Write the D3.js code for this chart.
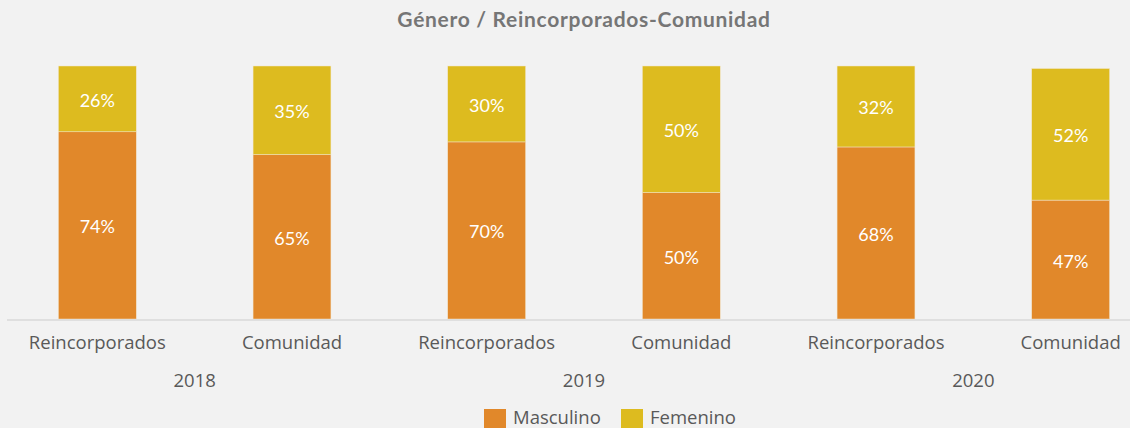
<!DOCTYPE html>
<html>
<head>
<meta charset="utf-8">
<script src="https://cdn.jsdelivr.net/npm/d3@7"></script>
<style>
  html, body { margin: 0; padding: 0; background: #f2f2f2; }
  svg { display: block; }
</style>
</head>
<body>
<div id="chart"></div>
<script>
// Data
const years = ["2018", "2019", "2020"];
const groups = ["Reincorporados", "Comunidad"];
const masculino = [74, 65, 70, 50, 68, 47];
const femenino = [26, 35, 30, 50, 32, 52];
const seriesNames = ["Masculino", "Femenino"];

const W = 1130, H = 428;
const colors = { Masculino: "#e1882a", Femenino: "#ddbb1f" };

const rows = [];
years.forEach((yr, i) => groups.forEach((g, j) => {
    const k = i * groups.length + j;
    rows.push({ key: yr + "-" + g, year: yr, group: g, Masculino: masculino[k], Femenino: femenino[k] });
}));

const svg = d3.select("#chart").append("svg")
    .attr("width", W)
    .attr("height", H);

svg.append("rect").attr("width", W).attr("height", H).attr("fill", "#f2f2f2");

// Title
svg.append("text")
    .attr("x", 584)
    .attr("y", 27)
    .attr("text-anchor", "middle")
    .style("font-family", "Lato, sans-serif")
    .style("font-weight", "bold")
    .style("font-size", "21px")
    .style("letter-spacing", "0.7px")
    .style("fill", "#767676")
    .text("Género / Reincorporados-Comunidad");

// Scales
const x = d3.scaleBand()
    .domain(rows.map(d => d.key))
    .range([0, 1168])
    .paddingInner(0.6)
    .paddingOuter(0.3);

const y = d3.scaleLinear()
    .domain([0, 100])
    .range([319, 66]);

const stacked = d3.stack().keys(seriesNames)(rows);

// Bars
const layers = svg.append("g")
    .selectAll("g")
    .data(stacked)
    .join("g")
    .attr("fill", d => colors[d.key]);

layers.selectAll("rect")
    .data(d => d)
    .join("rect")
    .attr("x", d => x(d.data.key))
    .attr("y", d => y(d[1]))
    .attr("width", x.bandwidth())
    .attr("height", d => y(d[0]) - y(d[1]))
    .attr("stroke", "#f2e6cc")
    .attr("stroke-width", 0.5);

// Value labels
layers.selectAll("text")
    .data(d => d.map(v => ({ v, key: d.key })))
    .join("text")
    .attr("x", d => x(d.v.data.key) + x.bandwidth() / 2)
    .attr("y", d => (y(d.v[0]) + y(d.v[1])) / 2 + 8)
    .attr("text-anchor", "middle")
    .style("font-family", "Lato, sans-serif")
    .style("font-weight", "400")
    .style("font-size", "18px")
    .style("fill", "#ffffff")
    .text(d => d.v.data[d.key] + "%");

// Axis line
svg.append("line")
    .attr("x1", 7).attr("x2", W)
    .attr("y1", 320).attr("y2", 320)
    .style("stroke", "#d9d9d9")
    .style("stroke-width", 1.5);

// Category labels
svg.append("g")
    .selectAll("text")
    .data(rows)
    .join("text")
    .attr("x", d => x(d.key) + x.bandwidth() / 2)
    .attr("y", 349)
    .attr("text-anchor", "middle")
    .style("font-family", "'Open Sans', sans-serif")
    .style("font-size", "18.5px")
    .style("fill", "#595959")
    .text(d => d.group);

// Year labels
svg.append("g")
    .selectAll("text")
    .data(years)
    .join("text")
    .attr("x", (d, i) => (x(rows[i * 2].key) + x(rows[i * 2 + 1].key) + x.bandwidth()) / 2)
    .attr("y", 387)
    .attr("text-anchor", "middle")
    .style("font-family", "'Open Sans', sans-serif")
    .style("font-size", "18.5px")
    .style("fill", "#595959")
    .text(d => d);

// Legend
const legendPos = [484, 621];
const legend = svg.append("g")
    .selectAll("g")
    .data(seriesNames)
    .join("g")
    .attr("transform", (d, i) => `translate(${legendPos[i]}, 409)`);

legend.append("rect")
    .attr("width", 22)
    .attr("height", 22)
    .attr("fill", d => colors[d]);

legend.append("text")
    .attr("x", 29)
    .attr("y", 15)
    .style("font-family", "'Open Sans', sans-serif")
    .style("font-size", "18.5px")
    .style("fill", "#595959")
    .text(d => d);
</script>
</body>
</html>
